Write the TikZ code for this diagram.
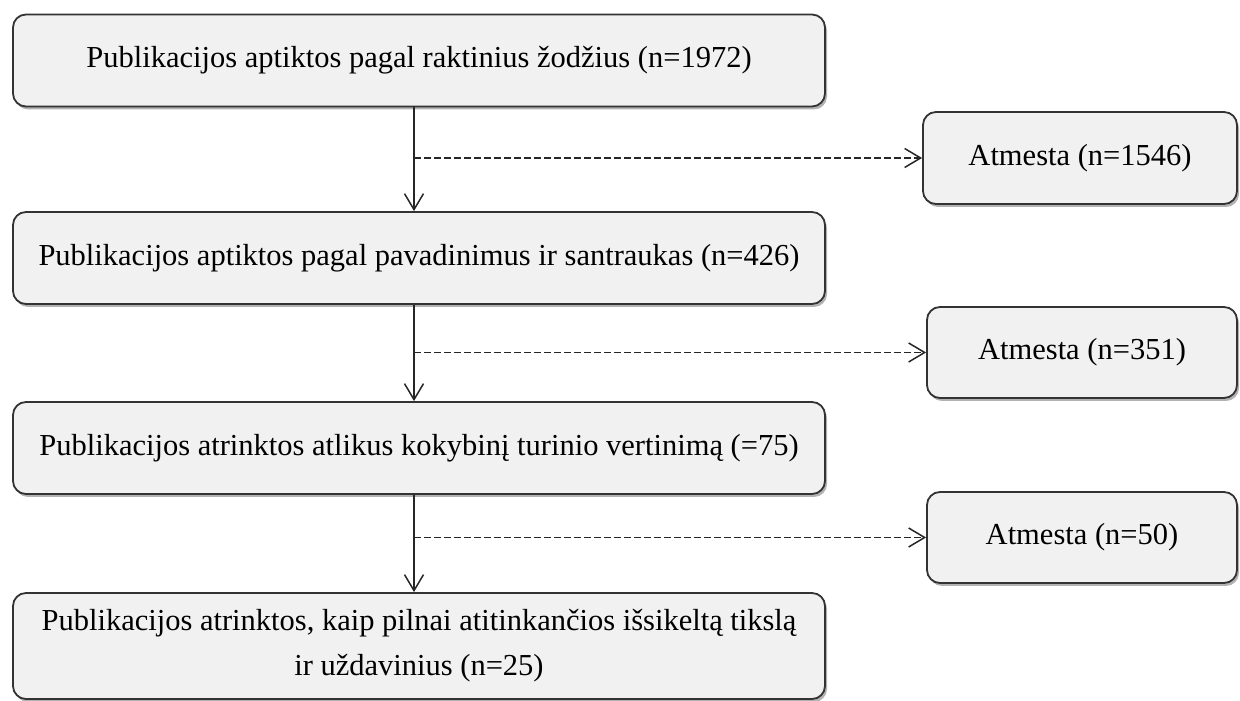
\documentclass[tikz,border=0pt]{standalone}
\usepackage{fontspec}
\setmainfont{Liberation Serif}
\usetikzlibrary{arrows.meta,shadows}

\definecolor{boxfill}{HTML}{F1F1F1}
\definecolor{boxline}{HTML}{333333}

\tikzset{
  flowbox/.style={draw=boxline, line width=1.8pt, fill=boxfill, rounded corners=13pt,
    drop shadow={shadow xshift=2pt, shadow yshift=-3pt, opacity=0.5, fill=black!60},
    align=center, inner sep=0pt, font=\fontsize{30.5}{45}\selectfont},
  mainbox/.style={flowbox, minimum width=812pt, minimum height=92pt},
  rejectbox/.style={flowbox, minimum width=310pt, minimum height=91pt},
  flowarrow/.style={draw=black!85, line width=1.5pt, -{Straight Barb[length=16pt,width=19pt,line width=1.5pt]}},
  rejectarrow/.style={flowarrow, dash pattern=on 6.5pt off 3.5pt}
}

\begin{document}
\begin{tikzpicture}[x=1pt,y=1pt]
  \useasboundingbox (0,0) rectangle (1240,701);

  % main chain of selection steps
  \node[mainbox] (b1) at (419,640.5) {Publikacijos aptiktos pagal raktinius žodžius (n=1972)};
  \node[mainbox] (b2) at (419,443)   {Publikacijos aptiktos pagal pavadinimus ir santraukas (n=426)};
  \node[mainbox] (b3) at (419,253)   {Publikacijos atrinktos atlikus kokybinį turinio vertinimą (=75)};
  \node[mainbox, minimum height=106pt] (b4) at (419,55)
    {Publikacijos atrinktos, kaip pilnai atitinkančios išsikeltą tikslą\\ir uždavinius (n=25)};

  % excluded publications at each step
  \node[rejectbox, minimum width=314pt, minimum height=92pt] (r1) at (1080,543) {Atmesta (n=1546)};
  \node[rejectbox] (r2) at (1082,348.5) {Atmesta (n=351)};
  \node[rejectbox] (r3) at (1082,163.5) {Atmesta (n=50)};

  % vertical flow, slightly left of the box centres
  \coordinate (spine) at (414,0);
  \draw[flowarrow] (b1.south -| spine) -- (b2.north -| spine);
  \draw[flowarrow] (b2.south -| spine) -- (b3.north -| spine);
  \draw[flowarrow] (b3.south -| spine) -- (b4.north -| spine);

  % branches to the excluded counts
  \draw[rejectarrow] (r1.west -| spine) -- (r1.west);
  \draw[rejectarrow] (r2.west -| spine) -- (r2.west);
  \draw[rejectarrow] (r3.west -| spine) -- (r3.west);
\end{tikzpicture}
\end{document}
